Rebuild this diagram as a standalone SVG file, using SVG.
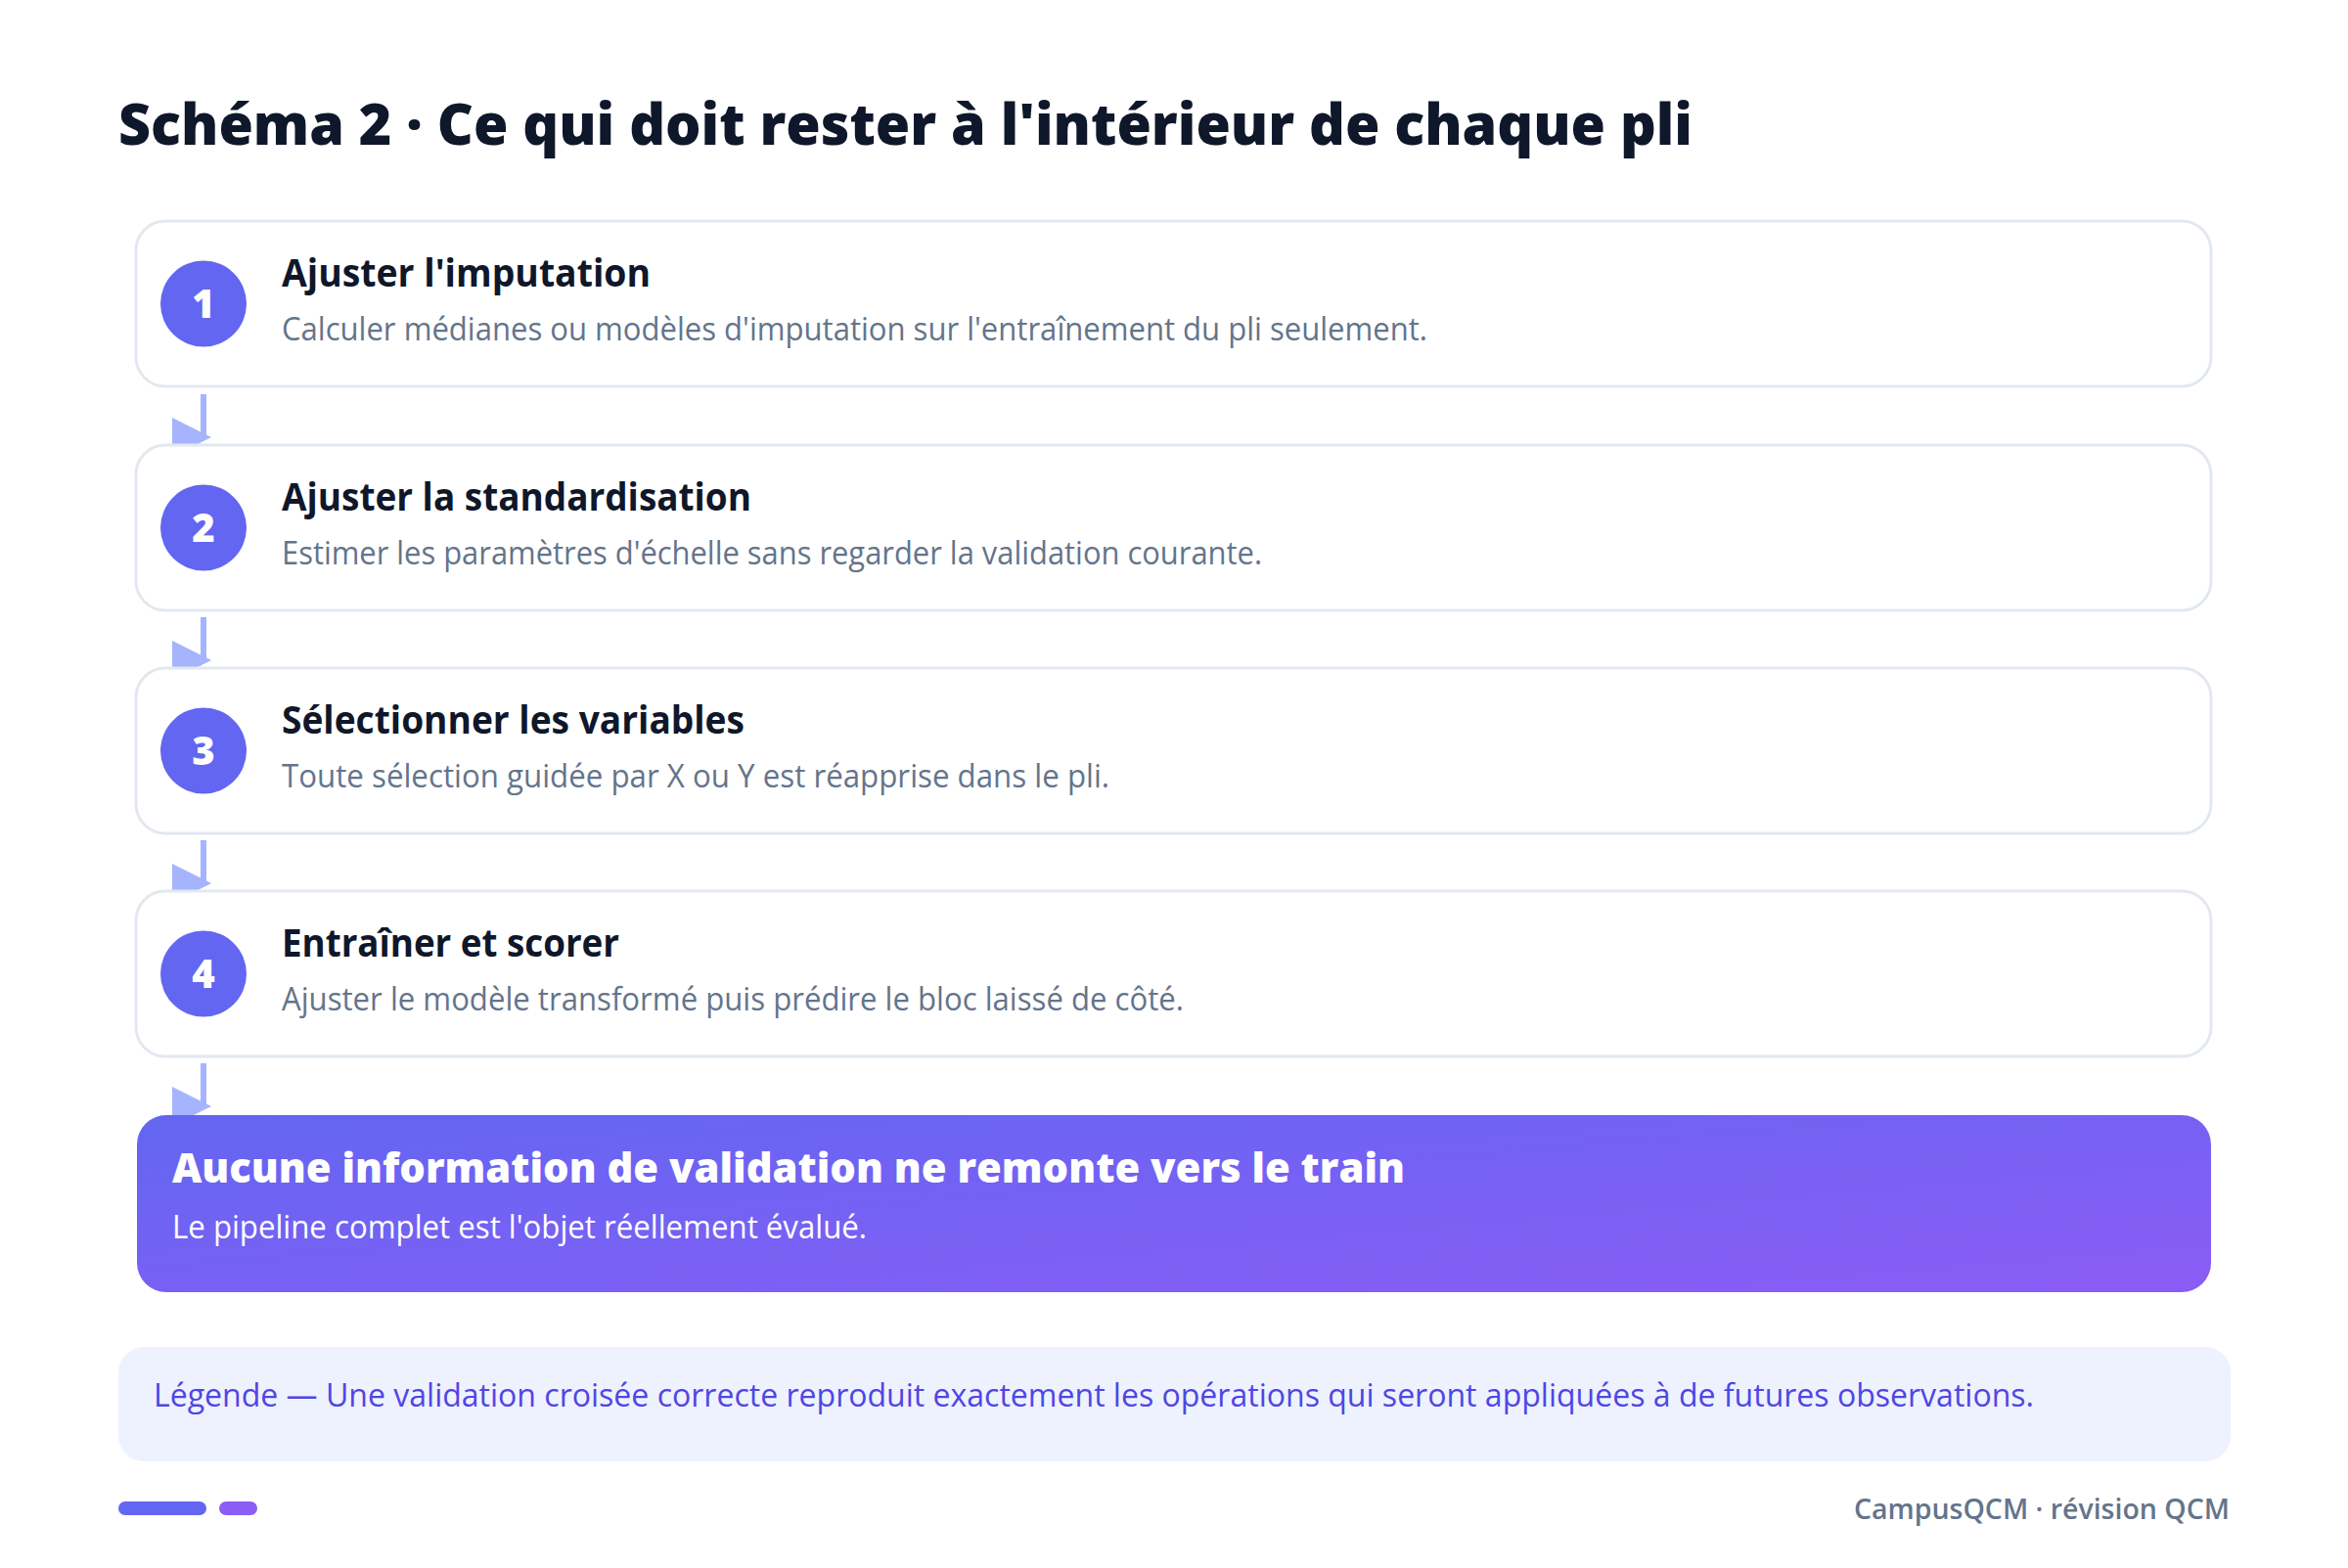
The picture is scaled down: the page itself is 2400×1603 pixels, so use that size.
<svg xmlns="http://www.w3.org/2000/svg" width="2400" height="1603" viewBox="0 0 2400 1603">
  <style>
    .bg { fill: #ffffff; }
    .title { font-family: "Open Sans", "Noto Sans", "Liberation Sans", sans-serif; font-weight: 800; font-size: 58px; fill: #0f172a; }
    .card { fill: #ffffff; stroke: #e2e8f0; stroke-width: 3; }
    .badge { fill: #6366f1; }
    .num { font-family: "Open Sans", "Noto Sans", "Liberation Sans", sans-serif; font-weight: 800; font-size: 40px; fill: #ffffff; text-anchor: middle; }
    .stitle { font-family: "Open Sans", "Noto Sans", "Liberation Sans", sans-serif; font-weight: 700; font-size: 39px; fill: #0f172a; }
    .ssub { font-family: "Open Sans", "Noto Sans", "Liberation Sans", sans-serif; font-weight: 400; font-size: 32px; fill: #64748b; }
    .conn { stroke: #a5b4fc; stroke-width: 6; fill: none; marker-end: url(#arrow); }
    .htitle { font-family: "Open Sans", "Noto Sans", "Liberation Sans", sans-serif; font-weight: 800; font-size: 42px; fill: #ffffff; }
    .hsub { font-family: "Open Sans", "Noto Sans", "Liberation Sans", sans-serif; font-weight: 400; font-size: 32px; fill: #ffffff; }
    .legend { fill: #eef2ff; }
    .ltext { font-family: "Open Sans", "Noto Sans", "Liberation Sans", sans-serif; font-weight: 400; font-size: 32px; fill: #4f46e5; }
    .footer { font-family: "Open Sans", "Noto Sans", "Liberation Sans", sans-serif; font-weight: 600; font-size: 29px; fill: #64748b; text-anchor: end; }
  </style>
  <defs>
    <marker id="arrow" viewBox="0 0 10 10" markerUnits="userSpaceOnUse" markerWidth="41" markerHeight="40" refX="8" refY="5" orient="0">
      <path d="M0,0 L10,5 L0,10 z" fill="#a5b4fc"/>
    </marker>
    <linearGradient id="grad" x1="0" y1="0" x2="1" y2="1">
      <stop offset="0" stop-color="#6366f1"/>
      <stop offset="1" stop-color="#8b5cf6"/>
    </linearGradient>
  </defs>

  <rect class="bg" x="0" y="0" width="2400" height="1603"/>

  <text id="title" class="title" x="121" y="148" textLength="1609" lengthAdjust="spacingAndGlyphs">Schéma 2 · Ce qui doit rester à l'intérieur de chaque pli</text>

  <g id="connectors">
    <line class="conn" x1="208" y1="403" x2="208" y2="447"/>
    <line class="conn" x1="208" y1="631" x2="208" y2="675"/>
    <line class="conn" x1="208" y1="859" x2="208" y2="903"/>
    <line class="conn" x1="208" y1="1087" x2="208" y2="1131"/>
  </g>

  <g id="step1">
    <rect class="card" x="139" y="226" width="2121" height="169" rx="30"/>
    <circle class="badge" cx="208" cy="310.5" r="44"/>
    <text class="num" x="208" y="325">1</text>
    <text class="stitle" x="288" y="293" textLength="377" lengthAdjust="spacingAndGlyphs">Ajuster l'imputation</text>
    <text class="ssub" x="288" y="348" textLength="1171" lengthAdjust="spacingAndGlyphs">Calculer médianes ou modèles d'imputation sur l'entraînement du pli seulement.</text>
  </g>

  <g id="step2">
    <rect class="card" x="139" y="455" width="2121" height="169" rx="30"/>
    <circle class="badge" cx="208" cy="539.5" r="44"/>
    <text class="num" x="208" y="554">2</text>
    <text class="stitle" x="288" y="522" textLength="480" lengthAdjust="spacingAndGlyphs">Ajuster la standardisation</text>
    <text class="ssub" x="288" y="577" textLength="1002" lengthAdjust="spacingAndGlyphs">Estimer les paramètres d'échelle sans regarder la validation courante.</text>
  </g>

  <g id="step3">
    <rect class="card" x="139" y="683" width="2121" height="169" rx="30"/>
    <circle class="badge" cx="208" cy="767.5" r="44"/>
    <text class="num" x="208" y="782">3</text>
    <text class="stitle" x="288" y="750" textLength="473" lengthAdjust="spacingAndGlyphs">Sélectionner les variables</text>
    <text class="ssub" x="288" y="805" textLength="846" lengthAdjust="spacingAndGlyphs">Toute sélection guidée par X ou Y est réapprise dans le pli.</text>
  </g>

  <g id="step4">
    <rect class="card" x="139" y="911" width="2121" height="169" rx="30"/>
    <circle class="badge" cx="208" cy="995.5" r="44"/>
    <text class="num" x="208" y="1010">4</text>
    <text class="stitle" x="288" y="978" textLength="345" lengthAdjust="spacingAndGlyphs">Entraîner et scorer</text>
    <text class="ssub" x="288" y="1033" textLength="922" lengthAdjust="spacingAndGlyphs">Ajuster le modèle transformé puis prédire le bloc laissé de côté.</text>
  </g>

  <g id="result">
    <rect x="140" y="1140" width="2120" height="181" rx="30" fill="url(#grad)"/>
    <text class="htitle" x="176" y="1209" textLength="1260" lengthAdjust="spacingAndGlyphs">Aucune information de validation ne remonte vers le train</text>
    <text class="hsub" x="176" y="1266" textLength="710" lengthAdjust="spacingAndGlyphs">Le pipeline complet est l'objet réellement évalué.</text>
  </g>

  <g id="legend">
    <rect class="legend" x="121" y="1377" width="2159" height="117" rx="26"/>
    <text class="ltext" x="157" y="1438" textLength="1922" lengthAdjust="spacingAndGlyphs">Légende — Une validation croisée correcte reproduit exactement les opérations qui seront appliquées à de futures observations.</text>
  </g>

  <g id="footer">
    <rect x="121" y="1535" width="90" height="14" rx="7" fill="#6366f1"/>
    <rect x="224" y="1535" width="39" height="14" rx="7" fill="#8b5cf6"/>
    <text class="footer" x="2279" y="1553" textLength="384" lengthAdjust="spacingAndGlyphs">CampusQCM · révision QCM</text>
  </g>
</svg>
